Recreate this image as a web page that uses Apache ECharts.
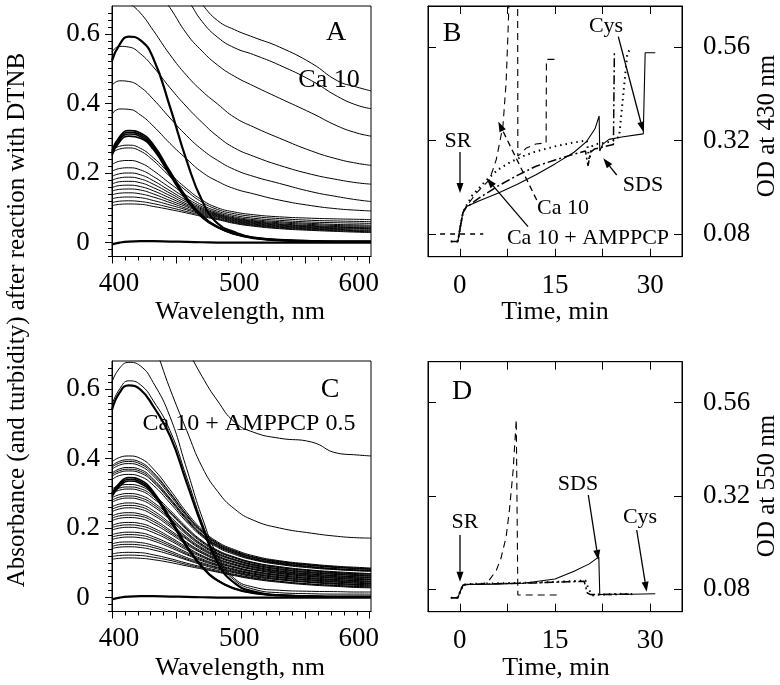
<!DOCTYPE html>
<html><head><meta charset="utf-8">
<script src="https://cdn.jsdelivr.net/npm/echarts@6/dist/echarts.min.js"></script>
<style>html,body{margin:0;padding:0;background:#fff}#c{width:780px;height:685px}</style>
</head><body><div id="c"></div>
<script>
// ---------- wavelength grid (nm) ----------
const WL = [400, 406, 413, 422, 432, 445, 458, 470, 482, 495, 510, 530, 555, 575, 590, 601];
// ---------- Panel A : Ca 10 ----------
const A_t1 = [1.05, 1.03, 1.0, 0.96, 0.9, 0.82, 0.745, 0.685, 0.638, 0.612, 0.59, 0.562, 0.515, 0.465, 0.447, 0.436];
const A_t2 = [0.98, 0.96, 0.93, 0.88, 0.82, 0.75, 0.7, 0.635, 0.59, 0.56, 0.54, 0.51, 0.465, 0.42, 0.395, 0.385];
const A_t3 = [0.9, 0.88, 0.85, 0.8, 0.74, 0.675, 0.6, 0.55, 0.51, 0.478, 0.45, 0.415, 0.372, 0.335, 0.315, 0.306];
const A_t4 = [0.72, 0.71, 0.69, 0.66, 0.61, 0.54, 0.48, 0.435, 0.398, 0.36, 0.332, 0.3, 0.263, 0.24, 0.228, 0.222];
const A_t5 = [0.548, 0.564, 0.562, 0.543, 0.505, 0.445, 0.39, 0.345, 0.305, 0.272, 0.248, 0.222, 0.196, 0.181, 0.172, 0.168];
const A_t6 = [0.452, 0.465, 0.463, 0.447, 0.412, 0.358, 0.307, 0.267, 0.236, 0.21, 0.19, 0.17, 0.146, 0.132, 0.123, 0.118];
const A_t7 = [0.37, 0.384, 0.383, 0.367, 0.335, 0.285, 0.24, 0.202, 0.176, 0.155, 0.14, 0.122, 0.106, 0.097, 0.093, 0.091];
const A_l01 = [0.265, 0.277, 0.28, 0.271, 0.244, 0.198, 0.155, 0.122, 0.1, 0.088, 0.08, 0.074, 0.07, 0.068, 0.067, 0.066];
const A_l02 = [0.258, 0.269, 0.272, 0.263, 0.236, 0.19, 0.148, 0.116, 0.095, 0.083, 0.075, 0.069, 0.064, 0.062, 0.061, 0.06];
const A_l03 = [0.224, 0.234, 0.236, 0.229, 0.207, 0.17, 0.135, 0.108, 0.09, 0.078, 0.07, 0.064, 0.059, 0.057, 0.056, 0.055];
const A_l04 = [0.205, 0.213, 0.215, 0.209, 0.19, 0.158, 0.127, 0.103, 0.086, 0.074, 0.066, 0.06, 0.055, 0.052, 0.051, 0.05];
const A_l05 = [0.19, 0.198, 0.2, 0.195, 0.178, 0.149, 0.121, 0.099, 0.083, 0.071, 0.063, 0.057, 0.052, 0.049, 0.048, 0.047];
const A_l06 = [0.179, 0.186, 0.188, 0.183, 0.168, 0.142, 0.116, 0.096, 0.081, 0.069, 0.061, 0.054, 0.049, 0.046, 0.045, 0.044];
const A_l07 = [0.168, 0.175, 0.176, 0.172, 0.158, 0.135, 0.111, 0.093, 0.079, 0.067, 0.059, 0.052, 0.047, 0.044, 0.043, 0.042];
const A_l08 = [0.158, 0.164, 0.165, 0.161, 0.149, 0.128, 0.107, 0.09, 0.077, 0.065, 0.057, 0.05, 0.045, 0.042, 0.041, 0.04];
const A_l09 = [0.148, 0.153, 0.154, 0.151, 0.14, 0.121, 0.103, 0.087, 0.075, 0.063, 0.055, 0.048, 0.043, 0.04, 0.039, 0.038];
const A_l10 = [0.137, 0.142, 0.143, 0.14, 0.131, 0.115, 0.098, 0.084, 0.073, 0.061, 0.053, 0.046, 0.041, 0.038, 0.036, 0.035];
const A_l11 = [0.126, 0.13, 0.131, 0.129, 0.121, 0.108, 0.094, 0.081, 0.07, 0.059, 0.051, 0.044, 0.039, 0.036, 0.034, 0.033];
const A_l12 = [0.115, 0.119, 0.12, 0.118, 0.112, 0.101, 0.089, 0.078, 0.068, 0.057, 0.049, 0.042, 0.037, 0.034, 0.032, 0.031];
const A_l13 = [0.106, 0.11, 0.111, 0.11, 0.104, 0.095, 0.085, 0.075, 0.066, 0.055, 0.047, 0.04, 0.035, 0.032, 0.03, 0.029];
const A_k1 = [0.265, 0.305, 0.322, 0.315, 0.282, 0.205, 0.13, 0.078, 0.046, 0.027, 0.015, 0.008, 0.005, 0.004, 0.004, 0.004];
const A_k2 = [0.26, 0.3, 0.317, 0.31, 0.277, 0.2, 0.127, 0.076, 0.045, 0.026, 0.014, 0.007, 0.004, 0.003, 0.003, 0.003];
const A_k3 = [0.255, 0.295, 0.312, 0.305, 0.272, 0.197, 0.124, 0.074, 0.044, 0.025, 0.013, 0.006, 0.004, 0.003, 0.003, 0.003];
const A_k4 = [0.25, 0.29, 0.306, 0.3, 0.268, 0.193, 0.121, 0.072, 0.043, 0.024, 0.012, 0.006, 0.003, 0.002, 0.002, 0.002];
const A_p = [0.523, 0.57, 0.592, 0.582, 0.53, 0.39, 0.235, 0.12, 0.055, 0.03, 0.014, 0.008, 0.004, 0.003, 0.003, 0.003];
const A_z = [-0.005, 0.0, 0.003, 0.004, 0.004, 0.003, 0.002, 0.001, 0, 0, 0, 0, 0, 0, 0, 0];
// ---------- Panel C : Ca 10 + AMPPCP 0.5 ----------
const C_t1 = [1.1, 1.08, 1.05, 1.0, 0.93, 0.83, 0.72, 0.635, 0.565, 0.505, 0.475, 0.458, 0.447, 0.415, 0.41, 0.407];
const C_t2 = [0.9, 0.89, 0.86, 0.8, 0.73, 0.6, 0.48, 0.375, 0.305, 0.255, 0.222, 0.2, 0.185, 0.176, 0.172, 0.171];
const C_pa = [0.62, 0.66, 0.676, 0.666, 0.618, 0.52, 0.37, 0.23, 0.12, 0.055, 0.03, 0.021, 0.018, 0.017, 0.016, 0.016];
const C_pb = [0.555, 0.6, 0.623, 0.612, 0.566, 0.48, 0.345, 0.215, 0.11, 0.05, 0.024, 0.014, 0.011, 0.01, 0.01, 0.01];
const C_pc = [0.54, 0.59, 0.61, 0.598, 0.55, 0.465, 0.33, 0.205, 0.1, 0.042, 0.017, 0.007, 0.004, 0.003, 0.003, 0.003];
const C_k1 = [0.3, 0.33, 0.345, 0.338, 0.305, 0.23, 0.15, 0.09, 0.05, 0.027, 0.014, 0.007, 0.004, 0.003, 0.003, 0.003];
const C_k2 = [0.295, 0.325, 0.34, 0.333, 0.3, 0.226, 0.147, 0.088, 0.049, 0.026, 0.013, 0.006, 0.003, 0.002, 0.002, 0.002];
const C_k3 = [0.29, 0.32, 0.335, 0.328, 0.296, 0.222, 0.144, 0.086, 0.048, 0.025, 0.012, 0.006, 0.003, 0.002, 0.002, 0.002];
const C_b01 = [0.39, 0.403, 0.407, 0.4, 0.37, 0.31, 0.245, 0.195, 0.16, 0.138, 0.12, 0.106, 0.096, 0.09, 0.087, 0.085];
const C_b02 = [0.379, 0.392, 0.396, 0.389, 0.36, 0.302, 0.239, 0.191, 0.157, 0.135, 0.117, 0.104, 0.094, 0.088, 0.085, 0.083];
const C_b03 = [0.369, 0.381, 0.385, 0.378, 0.35, 0.294, 0.233, 0.187, 0.153, 0.132, 0.115, 0.101, 0.092, 0.086, 0.083, 0.081];
const C_b04 = [0.358, 0.37, 0.374, 0.368, 0.341, 0.286, 0.228, 0.182, 0.15, 0.13, 0.112, 0.099, 0.089, 0.083, 0.08, 0.079];
const C_b05 = [0.349, 0.36, 0.364, 0.358, 0.332, 0.279, 0.222, 0.178, 0.147, 0.127, 0.11, 0.097, 0.087, 0.081, 0.078, 0.077];
const C_b06 = [0.339, 0.351, 0.354, 0.348, 0.323, 0.272, 0.217, 0.175, 0.144, 0.124, 0.108, 0.095, 0.085, 0.08, 0.077, 0.075];
const C_b07 = [0.312, 0.322, 0.325, 0.32, 0.297, 0.251, 0.202, 0.163, 0.136, 0.117, 0.101, 0.089, 0.079, 0.074, 0.071, 0.069];
const C_b08 = [0.299, 0.309, 0.312, 0.307, 0.285, 0.242, 0.195, 0.158, 0.132, 0.114, 0.098, 0.086, 0.077, 0.071, 0.068, 0.067];
const C_b09 = [0.287, 0.296, 0.299, 0.294, 0.274, 0.233, 0.188, 0.153, 0.128, 0.11, 0.095, 0.083, 0.074, 0.069, 0.066, 0.064];
const C_b10 = [0.274, 0.283, 0.286, 0.281, 0.262, 0.224, 0.181, 0.148, 0.124, 0.107, 0.092, 0.08, 0.071, 0.066, 0.063, 0.061];
const C_b11 = [0.261, 0.269, 0.272, 0.268, 0.25, 0.214, 0.174, 0.143, 0.12, 0.103, 0.089, 0.077, 0.068, 0.063, 0.06, 0.059];
const C_b12 = [0.247, 0.255, 0.258, 0.254, 0.237, 0.204, 0.167, 0.137, 0.116, 0.1, 0.086, 0.074, 0.065, 0.06, 0.057, 0.056];
const C_b13 = [0.234, 0.242, 0.244, 0.24, 0.225, 0.194, 0.159, 0.132, 0.112, 0.096, 0.083, 0.072, 0.063, 0.058, 0.055, 0.053];
const C_b14 = [0.221, 0.228, 0.23, 0.227, 0.212, 0.184, 0.152, 0.127, 0.107, 0.093, 0.08, 0.069, 0.06, 0.055, 0.052, 0.051];
const C_b15 = [0.207, 0.214, 0.216, 0.213, 0.2, 0.174, 0.145, 0.121, 0.103, 0.089, 0.076, 0.066, 0.057, 0.052, 0.049, 0.048];
const C_b16 = [0.194, 0.2, 0.202, 0.199, 0.187, 0.164, 0.137, 0.116, 0.099, 0.086, 0.073, 0.063, 0.054, 0.049, 0.046, 0.045];
const C_b17 = [0.181, 0.186, 0.188, 0.186, 0.175, 0.154, 0.13, 0.111, 0.095, 0.082, 0.07, 0.06, 0.051, 0.047, 0.044, 0.042];
const C_b18 = [0.167, 0.172, 0.174, 0.172, 0.163, 0.144, 0.123, 0.105, 0.091, 0.078, 0.067, 0.057, 0.048, 0.044, 0.041, 0.04];
const C_b19 = [0.154, 0.159, 0.16, 0.158, 0.15, 0.134, 0.115, 0.1, 0.087, 0.075, 0.064, 0.054, 0.045, 0.041, 0.038, 0.037];
const C_b20 = [0.141, 0.145, 0.146, 0.144, 0.137, 0.124, 0.108, 0.094, 0.082, 0.071, 0.06, 0.051, 0.043, 0.038, 0.035, 0.034];
const C_b21 = [0.125, 0.129, 0.13, 0.129, 0.123, 0.112, 0.099, 0.088, 0.078, 0.067, 0.057, 0.047, 0.039, 0.035, 0.032, 0.031];
const C_b22 = [0.11, 0.113, 0.114, 0.113, 0.109, 0.101, 0.091, 0.082, 0.073, 0.063, 0.053, 0.044, 0.036, 0.032, 0.029, 0.028];
const C_b23 = [0.375, 0.387, 0.391, 0.384, 0.356, 0.299, 0.237, 0.189, 0.155, 0.134, 0.116, 0.103, 0.093, 0.087, 0.084, 0.082];
const C_b24 = [0.354, 0.365, 0.369, 0.363, 0.336, 0.283, 0.225, 0.18, 0.149, 0.128, 0.111, 0.098, 0.088, 0.082, 0.079, 0.078];
const C_b25 = [0.305, 0.315, 0.318, 0.313, 0.291, 0.246, 0.198, 0.161, 0.134, 0.115, 0.1, 0.087, 0.078, 0.072, 0.069, 0.068];
const C_b26 = [0.28, 0.289, 0.292, 0.287, 0.268, 0.228, 0.185, 0.151, 0.126, 0.109, 0.094, 0.082, 0.072, 0.067, 0.064, 0.063];
const C_b27 = [0.254, 0.262, 0.265, 0.261, 0.243, 0.209, 0.17, 0.14, 0.118, 0.102, 0.088, 0.076, 0.067, 0.062, 0.059, 0.057];
const C_b28 = [0.228, 0.235, 0.237, 0.234, 0.219, 0.189, 0.156, 0.129, 0.11, 0.095, 0.081, 0.07, 0.061, 0.056, 0.053, 0.052];
const C_b29 = [0.201, 0.207, 0.209, 0.206, 0.194, 0.169, 0.141, 0.119, 0.101, 0.087, 0.075, 0.064, 0.055, 0.051, 0.048, 0.046];
const C_b30 = [0.174, 0.179, 0.181, 0.179, 0.169, 0.149, 0.126, 0.108, 0.093, 0.08, 0.068, 0.058, 0.05, 0.045, 0.042, 0.041];
const C_b31 = [0.147, 0.152, 0.153, 0.151, 0.144, 0.129, 0.111, 0.097, 0.085, 0.073, 0.062, 0.052, 0.044, 0.04, 0.037, 0.036];
const C_b32 = [0.118, 0.121, 0.122, 0.121, 0.116, 0.107, 0.095, 0.085, 0.075, 0.065, 0.055, 0.046, 0.038, 0.034, 0.031, 0.03];
const C_z = [-0.005, 0.0, 0.003, 0.004, 0.004, 0.003, 0.002, 0.001, 0, 0, 0, 0, 0, 0, 0, 0];
// ---------- Panel B : OD at 430 nm vs time ----------
const B_dash_t = [-1.4, -0.3, 0.1, 0.5, 1, 2.6, 4.7, 5.75, 6.8, 7.3, 7.6, 7.9, 9.1, 9.15, 9.7, 10.5, 12, 13.6, 13.65, 15.4];
const B_dash_v = [0.061, 0.061, 0.1, 0.135, 0.15, 0.185, 0.22, 0.271, 0.357, 0.468, 0.597, 0.75, 0.95, 0.28, 0.288, 0.301, 0.311, 0.314, 0.528, 0.528];
const B_dot_t = [-1.4, -0.3, 0.1, 0.5, 1, 2, 4, 6, 8, 10, 12, 15, 18, 20, 20.4, 20.8, 21.3, 24, 25.1, 26.4, 26.9];
const B_dot_v = [0.061, 0.061, 0.1, 0.135, 0.152, 0.18, 0.215, 0.245, 0.265, 0.28, 0.292, 0.305, 0.315, 0.32, 0.27, 0.305, 0.31, 0.318, 0.33, 0.545, 0.554];
const B_dd_t = [-1.4, -0.3, 0.1, 0.5, 1, 3, 6, 9, 12, 15, 18, 19.8, 20.2, 20.6, 21.2, 24.2, 24.35, 24.5];
const B_dd_v = [0.061, 0.061, 0.1, 0.135, 0.148, 0.172, 0.203, 0.23, 0.254, 0.27, 0.285, 0.293, 0.255, 0.29, 0.298, 0.31, 0.545, 0.55];
const B_sol_t = [-1.4, -0.3, 0.1, 0.5, 1, 3, 6, 9, 12, 15, 18, 20, 21.3, 21.95, 22.05, 22.5, 23.5, 25.5, 28.9, 29.2, 30.8];
const B_sol_v = [0.061, 0.061, 0.1, 0.135, 0.15, 0.165, 0.185, 0.207, 0.232, 0.26, 0.29, 0.318, 0.35, 0.383, 0.293, 0.31, 0.323, 0.329, 0.337, 0.545, 0.545];
const B_ref_t = [-3.1, 3.7];
const B_ref_v = [0.08, 0.08];
// ---------- Panel D : OD at 550 nm vs time ----------
const D_dash_t = [-1.4, -0.3, 0.1, 0.5, 1, 3.5, 4.5, 5.75, 6.5, 7.3, 7.8, 8.4, 8.9, 9.15, 12, 15.9];
const D_dash_v = [0.058, 0.058, 0.075, 0.09, 0.092, 0.093, 0.1, 0.128, 0.16, 0.214, 0.28, 0.384, 0.516, 0.065, 0.065, 0.065];
const D_dot_t = [-1.4, -0.3, 0.1, 0.5, 1, 6, 12, 17, 19.8, 20.3, 20.9, 22, 25, 27.5];
const D_dot_v = [0.058, 0.058, 0.075, 0.09, 0.093, 0.095, 0.097, 0.1, 0.102, 0.08, 0.064, 0.066, 0.068, 0.067];
const D_dd_t = [-1.4, -0.3, 0.1, 0.5, 1, 6, 12, 17, 19.6, 20.1, 20.6, 23, 27];
const D_dd_v = [0.058, 0.058, 0.075, 0.09, 0.092, 0.094, 0.096, 0.099, 0.1, 0.07, 0.066, 0.066, 0.067];
const D_sol_t = [-1.4, -0.3, 0.1, 0.5, 1, 5, 10, 15, 18, 20.4, 21.9, 22.05, 23, 27, 30.8];
const D_sol_v = [0.058, 0.058, 0.075, 0.09, 0.092, 0.093, 0.095, 0.106, 0.126, 0.145, 0.163, 0.066, 0.067, 0.067, 0.068];
// ---------- tick labels ----------
const WL_LABELS = [400, 500, 600];
const WL_MAJOR = [400, 450, 500, 550, 600];
const WL_MINOR = [400, 410, 420, 430, 440, 450, 460, 470, 480, 490, 500, 510, 520, 530, 540, 550, 560, 570, 580, 590, 600];
const ABS_LABELS = [0, 0.2, 0.4, 0.6];
const ABS_MINOR = [-0.04, -0.02, 0, 0.02, 0.04, 0.06, 0.08, 0.1, 0.12, 0.14, 0.16, 0.18, 0.2, 0.22, 0.24, 0.26, 0.28, 0.3, 0.32, 0.34, 0.36, 0.38, 0.4, 0.42, 0.44, 0.46, 0.48, 0.5, 0.52, 0.54, 0.56, 0.58, 0.6, 0.62, 0.64, 0.66];
const T_LABELS = [0, 15, 30];
const T_TICKS = [0, 7.5, 15, 22.5, 30];
const OD_LABELS = [0.08, 0.32, 0.56];

const FONT = '"Liberation Serif", "Times New Roman", serif';
const chart = echarts.init(document.getElementById('c'), null, {renderer: 'canvas'});

const grids = [
  {left: 112, top: 6, width: 259, height: 250.5},
  {left: 428, top: 6, width: 254, height: 250.7},
  {left: 112, top: 361, width: 259, height: 250.5},
  {left: 428, top: 361.7, width: 254, height: 250}
].map(g => Object.assign(g, {show: true, borderColor: '#000', borderWidth: 1, containLabel: false}));

const lab = {fontSize: 27, fontFamily: FONT, color: '#000'};
const line0 = {show: true, onZero: false, lineStyle: {color: '#000', width: 1}};
const noLine = {show: false, onZero: false};
function wlAxes(gi) {
  return [
    {type: 'value', gridIndex: gi, min: 400, max: 601, position: 'bottom', axisLine: line0,
     axisTick: {show: true, inside: false, length: 7, customValues: WL_MAJOR, lineStyle: {color: '#000'}},
     axisLabel: Object.assign({}, lab, {customValues: WL_LABELS, margin: 14,
       formatter: v => v === 400 ? '{r|400}' : (v === 600 ? '{l|600}' : '{n|500}'),
       rich: {r: Object.assign({}, lab, {padding: [0, 0, 0, 14]}), l: Object.assign({}, lab, {padding: [0, 22, 0, 0]}), n: Object.assign({}, lab, {padding: [0, 3, 0, 0]})}}),
     splitLine: {show: false}},
    {type: 'value', gridIndex: gi, min: 400, max: 601, position: 'bottom',
     axisLine: noLine, axisLabel: {show: false}, splitLine: {show: false},
     axisTick: {show: true, inside: false, length: 4, customValues: WL_MINOR, lineStyle: {color: '#000'}}}
  ];
}
function absAxes(gi) {
  return [
    {type: 'value', gridIndex: gi, min: -0.04, max: 0.68, position: 'left', axisLine: line0,
     axisTick: {show: true, inside: false, length: 7, customValues: ABS_LABELS, lineStyle: {color: '#000'}},
     axisLabel: Object.assign({}, lab, {customValues: ABS_LABELS, margin: 29, align: 'center', formatter: v => String(v)}),
     splitLine: {show: false}},
    {type: 'value', gridIndex: gi, min: -0.04, max: 0.68, position: 'left',
     axisLine: noLine, axisLabel: {show: false}, splitLine: {show: false},
     axisTick: {show: true, inside: false, length: 4, customValues: ABS_MINOR, lineStyle: {color: '#000'}}}
  ];
}
function tAxes(gi) {
  return [
    {type: 'value', gridIndex: gi, min: -5, max: 35, position: 'bottom', axisLine: line0,
     axisTick: {show: true, inside: true, length: 8, customValues: T_TICKS, lineStyle: {color: '#000'}},
     axisLabel: Object.assign({}, lab, {customValues: T_LABELS, margin: 16}),
     splitLine: {show: false}},
    {type: 'value', gridIndex: gi, min: -5, max: 35, position: 'top', axisLine: line0,
     axisLabel: {show: false}, splitLine: {show: false},
     axisTick: {show: true, inside: true, length: 8, customValues: T_TICKS, lineStyle: {color: '#000'}}}
  ];
}
function odAxes(gi) {
  return [
    {type: 'value', gridIndex: gi, min: 0.022, max: 0.665, position: 'right', axisLine: line0,
     axisTick: {show: true, inside: true, length: 8, customValues: OD_LABELS, lineStyle: {color: '#000'}},
     axisLabel: Object.assign({}, lab, {customValues: OD_LABELS, margin: 21, formatter: v => v.toFixed(2)}),
     splitLine: {show: false}},
    {type: 'value', gridIndex: gi, min: 0.022, max: 0.665, position: 'left', axisLine: line0,
     axisLabel: {show: false}, splitLine: {show: false},
     axisTick: {show: true, inside: true, length: 8, customValues: OD_LABELS, lineStyle: {color: '#000'}}}
  ];
}
// axis indices: A=0, B=2, C=4, D=6 (x and y alike)
const xAxes = [].concat(wlAxes(0), tAxes(1), wlAxes(2), tAxes(3));
const yAxes = [].concat(absAxes(0), odAxes(1), absAxes(2), odAxes(3));

const series = [];
function spec(ax, vals, width) {
  series.push({type: 'line', xAxisIndex: ax, yAxisIndex: ax, data: WL.map((w, i) => [w, vals[i]]),
    symbol: 'none', smooth: 0.5, clip: true, silent: true,
    lineStyle: {color: '#000', width: width}});
}
function kin(ax, ts, vs, width, dash) {
  series.push({type: 'line', xAxisIndex: ax, yAxisIndex: ax, data: ts.map((t, i) => [t, vs[i]]),
    symbol: 'none', smooth: false, clip: true, silent: true,
    lineStyle: {color: '#000', width: width, type: dash || 'solid'}});
}
// Panel A
[A_t1, A_t2, A_t3, A_t4, A_t5, A_t6, A_t7, A_l01, A_l02, A_l03, A_l04, A_l05, A_l06, A_l07, A_l08, A_l09, A_l10, A_l11, A_l12, A_l13].forEach(v => spec(0, v, 1));
[A_k1, A_k2, A_k3, A_k4].forEach(v => spec(0, v, 1.6));
spec(0, A_p, 2.2);
spec(0, A_z, 2.2);
// Panel C
[C_t1, C_t2, C_pa, C_pb].forEach(v => spec(4, v, 1));
spec(4, C_pc, 2.2);
[C_b01, C_b02, C_b03, C_b04, C_b05, C_b06, C_b07, C_b08, C_b09, C_b10, C_b11, C_b12, C_b13, C_b14, C_b15, C_b16,
 C_b17, C_b18, C_b19, C_b20, C_b21, C_b22, C_b23, C_b24, C_b25, C_b26, C_b27, C_b28, C_b29, C_b30, C_b31, C_b32].forEach(v => spec(4, v, 1));
[C_k1, C_k2, C_k3].forEach(v => spec(4, v, 1.6));
spec(4, C_z, 2.2);
// Panel B
kin(2, B_ref_t, B_ref_v, 1.5, [5, 5]);
kin(2, B_dash_t, B_dash_v, 1.1, [7, 5]);
kin(2, B_dot_t, B_dot_v, 2, [1.5, 4]);
kin(2, B_dd_t, B_dd_v, 1.5, [9, 3, 2, 3]);
kin(2, B_sol_t, B_sol_v, 1.1);
// Panel D
kin(6, D_dash_t, D_dash_v, 1.1, [7, 5]);
kin(6, D_dot_t, D_dot_v, 2, [1.5, 4]);
kin(6, D_dd_t, D_dd_v, 1.5, [9, 3, 2, 3]);
kin(6, D_sol_t, D_sol_v, 1.1);

// ---------- annotations ----------
function txt(s, x, y, size, rot) {
  return {type: 'text', x: x, y: y, rotation: rot || 0, z: 100,
    style: {text: s, fontSize: size, fontFamily: FONT, fill: '#000', align: 'center', verticalAlign: 'middle'}};
}
function arrow(x1, y1, x2, y2, dash) {
  const a = Math.atan2(y2 - y1, x2 - x1), L = 10, W = 3.5;
  const bx = x2 - L * Math.cos(a), by = y2 - L * Math.sin(a);
  const px = -Math.sin(a) * W, py = Math.cos(a) * W;
  return [
    {type: 'line', z: 100, shape: {x1: x1, y1: y1, x2: bx, y2: by}, style: {stroke: '#000', lineWidth: 1.3, lineDash: dash ? [6, 4] : null}},
    {type: 'polygon', z: 100, shape: {points: [[x2, y2], [bx + px, by + py], [bx - px, by - py]]}, style: {fill: '#000'}}
  ];
}
const graphics = [
  txt('Absorbance (and turbidity) after reaction with DTNB', 17, 320, 25, Math.PI / 2),
  txt('OD at 430 nm', 767, 126, 25, Math.PI / 2),
  txt('OD at 550 nm', 767, 486, 25, Math.PI / 2),
  txt('Wavelength, nm', 240, 312, 26),
  txt('Wavelength, nm', 240, 668, 26),
  txt('Time, min', 555, 312, 26),
  txt('Time, min', 556, 668, 26),
  txt('A', 336, 33, 28), txt('B', 452, 34, 28), txt('C', 330, 390, 28), txt('D', 462, 392, 28),
  txt('Ca 10', 329, 80, 26),
  txt('Ca 10 + AMPPCP 0.5', 249, 424, 24),
  txt('SR', 458, 141, 22), txt('Ca 10', 563, 208, 22), txt('Ca 10 + AMPPCP', 588, 238, 22),
  txt('SDS', 643, 185, 22), txt('Cys', 606, 26, 22),
  txt('SR', 465, 522, 22), txt('SDS', 578, 484, 22), txt('Cys', 640, 517, 22)
].concat(
  arrow(460, 152, 460, 193), arrow(536.7, 200, 498.3, 121.7, true), arrow(528, 226.7, 486.7, 178.3),
  arrow(616.7, 175, 603.3, 158.3), arrow(618.3, 36.7, 643.3, 131.7),
  arrow(460, 535, 460, 581.7), arrow(588.3, 495, 598.3, 560), arrow(636.7, 530, 646.7, 591.7)
);

chart.setOption({
  animation: false,
  backgroundColor: '#fff',
  grid: grids,
  xAxis: xAxes,
  yAxis: yAxes,
  series: series,
  graphic: graphics
});
</script></body></html>
